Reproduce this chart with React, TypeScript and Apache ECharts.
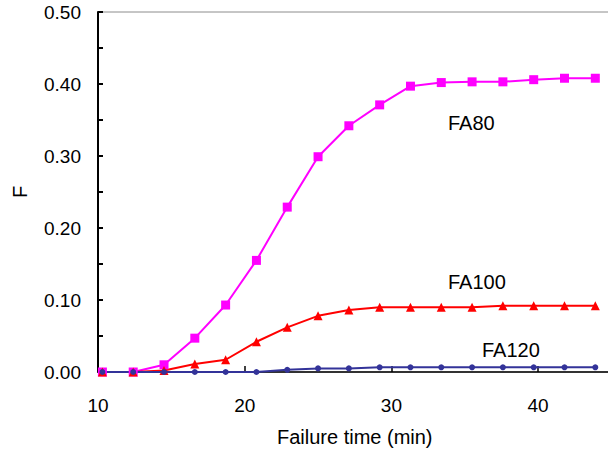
import React, { useEffect, useRef } from "react";
import * as echarts from "echarts";

const times = [10.3, 12.4, 14.5, 16.6, 18.7, 20.8, 22.9, 25.0, 27.1, 29.2, 31.3, 33.4, 35.5, 37.6, 39.7, 41.8, 43.9];
const fa80 = [0, 0, 0.010, 0.047, 0.093, 0.155, 0.229, 0.299, 0.342, 0.371, 0.397, 0.402, 0.403, 0.403, 0.406, 0.408, 0.408];
const fa100 = [0, 0, 0.002, 0.011, 0.017, 0.042, 0.062, 0.078, 0.086, 0.090, 0.090, 0.090, 0.090, 0.092, 0.092, 0.092, 0.092];
const fa120 = [0, 0, 0, 0, 0, 0, 0.003, 0.005, 0.005, 0.0065, 0.0065, 0.0065, 0.0065, 0.0065, 0.0065, 0.0065, 0.0065];
const seriesNames = ["FA80", "FA100", "FA120"];
const xTitle = "Failure time (min)";
const yTitle = "F";

const pair = (vals: number[]) => times.map((t, i) => [t, vals[i]]);

export default function App() {
  const ref = useRef<HTMLDivElement>(null);
  useEffect(() => {
    if (!ref.current) return;
    const chart = echarts.init(ref.current, null, { renderer: "svg" });
    const font = "Arial, 'Liberation Sans', sans-serif";
    chart.setOption({
      animation: false,
      backgroundColor: "#ffffff",
      grid: {
        left: 98,
        top: 12,
        bottom: 79,
        right: 640 - (98 + 35 * 14.67),
        show: true,
        borderColor: "#8c8c8c",
        borderWidth: 1,
      },
      xAxis: {
        type: "value",
        min: 10,
        max: 45,
        interval: 10,
        name: xTitle,
        nameLocation: "middle",
        nameGap: 55,
        nameTextStyle: { fontFamily: font, fontSize: 20, color: "#000" },
        axisLine: { show: true, onZero: false, lineStyle: { color: "#000", width: 1.5 } },
        axisTick: { show: true, inside: true, length: 6, lineStyle: { color: "#000", width: 1.5 } },
        axisLabel: { fontFamily: font, fontSize: 19, color: "#000", margin: 24, showMaxLabel: false },
        splitLine: { show: false },
      },
      yAxis: {
        type: "value",
        min: 0,
        max: 0.5,
        interval: 0.1,
        name: yTitle,
        nameLocation: "middle",
        nameGap: 68,
        nameRotate: 90,
        nameTextStyle: { fontFamily: font, fontSize: 20, color: "#000" },
        axisLine: { show: true, lineStyle: { color: "#000", width: 2 } },
        axisTick: { show: true, inside: true, length: 5, lineStyle: { color: "#000", width: 2 } },
        minorTick: { show: true, splitNumber: 2, length: 5, lineStyle: { color: "#000", width: 2 } },
        axisLabel: {
          fontFamily: font,
          fontSize: 19,
          color: "#000",
          margin: 17,
          padding: [7, 0, 0, 0],
          formatter: (v: number) => v.toFixed(2),
        },
        splitLine: { show: false },
      },
      series: [
        {
          name: seriesNames[0],
          type: "line",
          data: pair(fa80),
          symbol: "rect",
          symbolSize: 9,
          itemStyle: { color: "#ff00ff" },
          lineStyle: { color: "#ff00ff", width: 2 },
        },
        {
          name: seriesNames[1],
          type: "line",
          data: pair(fa100),
          symbol: "triangle",
          symbolSize: 9,
          itemStyle: { color: "#ff0000" },
          lineStyle: { color: "#ff0000", width: 2 },
        },
        {
          name: seriesNames[2],
          type: "line",
          data: pair(fa120),
          symbol: "circle",
          symbolSize: 6,
          itemStyle: { color: "#333399" },
          lineStyle: { color: "#333399", width: 2 },
        },
      ],
      graphic: [
        { type: "text", left: 448, top: 113, style: { text: seriesNames[0], fontFamily: font, fontSize: 20, fill: "#000" } },
        { type: "text", left: 448, top: 272, style: { text: seriesNames[1], fontFamily: font, fontSize: 20, fill: "#000" } },
        { type: "text", left: 482, top: 340, style: { text: seriesNames[2], fontFamily: font, fontSize: 20, fill: "#000" } },
      ],
    });
    return () => chart.dispose();
  }, []);
  return (
    <div style={{ position: "fixed", left: 0, top: 0, width: 608, height: 452, overflow: "hidden", background: "#fff" }}>
      <div ref={ref} style={{ width: 640, height: 452 }} />
    </div>
  );
}
